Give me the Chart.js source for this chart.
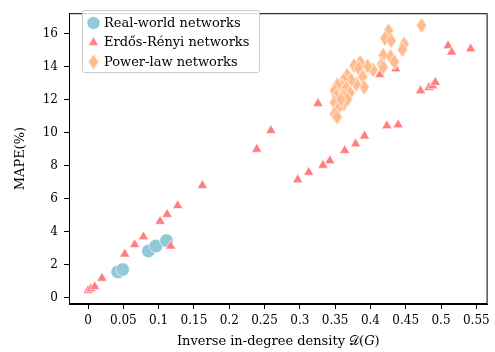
<!DOCTYPE html>
<html>
<head>
<meta charset="utf-8">
<script src="https://cdn.jsdelivr.net/npm/chart.js@4.4.1/dist/chart.umd.min.js"></script>
<style>
  html, body { margin: 0; padding: 0; background: #fff; }
  #chart { display: block; }
</style>
</head>
<body>
<canvas id="chart" width="495" height="352"></canvas>
<script>
// Real-world networks
const realX = [0.042, 0.049, 0.0855, 0.096, 0.111];
const realY = [1.58, 1.72, 2.84, 3.14, 3.47];

// Erdős-Rényi networks
const erX = [0.000, 0.004, 0.0094, 0.0197, 0.052, 0.066, 0.0785, 0.102, 0.112, 0.117,
  0.127, 0.162, 0.239, 0.259, 0.297, 0.3126, 0.3257, 0.3328, 0.3426, 0.3636,
  0.379, 0.3916, 0.4135, 0.4233, 0.436, 0.4393, 0.471, 0.483, 0.488, 0.492,
  0.510, 0.515, 0.542];
const erY = [0.45, 0.55, 0.68, 1.19, 2.65, 3.23, 3.70, 4.64, 5.06, 3.14,
  5.59, 6.81, 9.01, 10.14, 7.16, 7.61, 11.78, 8.04, 8.31, 8.93,
  9.33, 9.81, 13.53, 10.43, 13.88, 10.49, 12.55, 12.75, 12.85, 13.06,
  15.28, 14.89, 15.09];

// Power-law networks
const plX = [0.4724, 0.4257, 0.4205, 0.4295, 0.4477, 0.4453, 0.418, 0.4285, 0.434, 0.416,
  0.418, 0.4037, 0.396, 0.3855, 0.377, 0.3832, 0.389, 0.3912, 0.380, 0.3668,
  0.3725, 0.3622, 0.3598, 0.353, 0.349, 0.3655, 0.3711, 0.3622, 0.3518, 0.349,
  0.3622, 0.355, 0.349, 0.353, 0.3675, 0.358];
const plY = [16.51, 16.18, 15.73, 15.59, 15.38, 15.05, 14.70, 14.62, 14.31, 14.17,
  13.98, 13.82, 14.04, 14.27, 14.07, 13.92, 13.40, 12.77, 12.95, 13.49,
  13.20, 13.20, 12.81, 12.91, 12.55, 12.71, 12.42, 12.23, 12.23, 11.84,
  11.74, 11.55, 11.15, 10.96, 12.03, 12.03];

const xTicks = [0, 0.05, 0.1, 0.15, 0.2, 0.25, 0.3, 0.35, 0.4, 0.45, 0.5, 0.55];
const yTicks = [0, 2, 4, 6, 8, 10, 12, 14, 16];

const seriesNames = ['Real-world networks', 'Erdős-Rényi networks', 'Power-law networks'];
const colors = ['#92c9d6', '#ff7e82', '#ffbb8c'];

const FONT = '"DejaVu Serif", serif';

const toPoints = (xs, ys) => xs.map((x, i) => ({ x: x, y: ys[i] }));

// thin diamond marker
function thinDiamond(fill) {
  const c = document.createElement('canvas');
  c.width = 12;
  c.height = 17;
  const g = c.getContext('2d');
  g.beginPath();
  g.moveTo(6, 0.6);
  g.lineTo(11.2, 8.5);
  g.lineTo(6, 16.4);
  g.lineTo(0.8, 8.5);
  g.closePath();
  g.fillStyle = fill;
  g.fill();
  g.strokeStyle = '#ffffff';
  g.lineWidth = 0.7;
  g.stroke();
  return c;
}
const diamond = thinDiamond(colors[2]);

function drawMarker(ctx, kind, x, y) {
  ctx.save();
  ctx.fillStyle = colors[kind];
  ctx.strokeStyle = '#fff';
  ctx.lineWidth = 0.6;
  if (kind === 0) {
    ctx.beginPath();
    ctx.arc(x, y, 6.5, 0, Math.PI * 2);
    ctx.fill();
    ctx.stroke();
  } else if (kind === 1) {
    const r = 5.8;
    ctx.beginPath();
    ctx.moveTo(x, y - r);
    ctx.lineTo(x + r * Math.sin(Math.PI / 3), y + r / 2);
    ctx.lineTo(x - r * Math.sin(Math.PI / 3), y + r / 2);
    ctx.closePath();
    ctx.fill();
    ctx.stroke();
  } else {
    ctx.drawImage(diamond, x - diamond.width / 2, y - diamond.height / 2);
  }
  ctx.restore();
}

const framePlugin = {
  id: 'frame',
  afterDatasetsDraw(chart) {
    const { ctx, chartArea: a } = chart;
    ctx.save();
    ctx.strokeStyle = '#000';
    ctx.lineWidth = 1;
    ctx.strokeRect(a.left + 0.5, a.top + 0.5, a.right - a.left - 1, a.bottom - a.top - 1);
    ctx.restore();
  }
};

const legendBox = {
  id: 'legendBox',
  afterDraw(chart) {
    const ctx = chart.ctx;
    const bx = 82.5, by = 10.5, bw = 177, bh = 62;
    ctx.save();
    ctx.fillStyle = 'rgba(255,255,255,0.85)';
    ctx.strokeStyle = '#cccccc';
    ctx.lineWidth = 1;
    ctx.beginPath();
    ctx.roundRect(bx, by, bw, bh, 2);
    ctx.fill();
    ctx.stroke();
    ctx.font = '13px ' + FONT;
    ctx.fillStyle = '#000';
    ctx.textBaseline = 'middle';
    seriesNames.forEach((name, i) => {
      const y = 23 + i * 19.5;
      drawMarker(ctx, i, 93.5, y);
      ctx.fillText(name, 104, y + 0.5);
    });
    ctx.restore();
  }
};

new Chart(document.getElementById('chart'), {
  type: 'scatter',
  data: {
    datasets: [
      {
        label: seriesNames[0],
        data: toPoints(realX, realY),
        pointStyle: 'circle',
        pointRadius: 6.8,
        backgroundColor: colors[0],
        borderColor: '#ffffff',
        borderWidth: 0.6,
        order: 3
      },
      {
        label: seriesNames[1],
        data: toPoints(erX, erY),
        pointStyle: 'triangle',
        pointRadius: 5.9,
        backgroundColor: colors[1],
        borderColor: '#ffffff',
        borderWidth: 0.6,
        order: 2
      },
      {
        label: seriesNames[2],
        data: toPoints(plX, plY),
        pointStyle: diamond,
        backgroundColor: colors[2],
        order: 1
      }
    ]
  },
  options: {
    responsive: false,
    animation: false,
    devicePixelRatio: 1,
    layout: { padding: { top: 2, right: 3, left: 0, bottom: 0 } },
    plugins: {
      legend: { display: false },
      tooltip: { enabled: false }
    },
    scales: {
      x: {
        type: 'linear',
        min: -0.027,
        max: 0.566,
        afterBuildTicks: (s) => { s.ticks = xTicks.map(v => ({ value: v })); },
        afterFit: (s) => { s.height = 48; },
        grid: { drawOnChartArea: false, drawTicks: true, tickLength: 5, color: '#000' },
        border: { display: true, color: '#000', width: 1 },
        ticks: {
          color: '#000',
          padding: 5,
          maxRotation: 0,
          font: { family: FONT, size: 12 },
          callback: (v) => String(v)
        },
        title: {
          display: true,
          text: 'Inverse in-degree density 𝒟(𝐺)',
          color: '#000',
          font: { family: FONT, size: 13 },
          padding: { top: 0, bottom: 3 }
        }
      },
      y: {
        type: 'linear',
        min: -0.37,
        max: 17.25,
        afterBuildTicks: (s) => { s.ticks = yTicks.map(v => ({ value: v })); },
        afterFit: (s) => { s.width = 69; },
        grid: { drawOnChartArea: false, drawTicks: true, tickLength: 5, color: '#000' },
        border: { display: true, color: '#000', width: 1 },
        ticks: {
          color: '#000',
          padding: 6,
          font: { family: FONT, size: 12 },
          callback: (v) => String(v)
        },
        title: {
          display: true,
          text: 'MAPE(%)',
          color: '#000',
          font: { family: FONT, size: 13 },
          padding: { top: 13, bottom: 0 }
        }
      }
    }
  },
  plugins: [framePlugin, legendBox]
});
</script>
</body>
</html>
